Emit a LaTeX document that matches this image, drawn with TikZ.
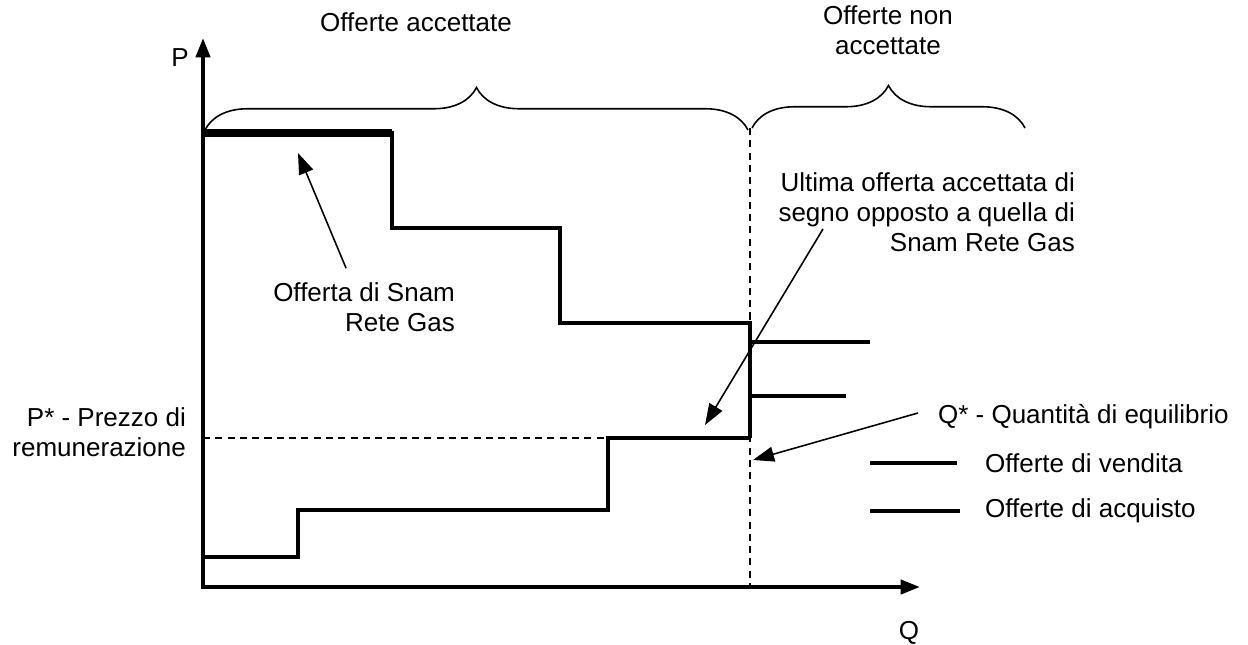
\documentclass[tikz,border=0pt]{standalone}
\usepackage{fontspec}
\setmainfont{Liberation Sans}
\usetikzlibrary{arrows.meta,decorations.pathreplacing}

\tikzset{
  asse/.style={line width=2.3pt,{Triangle[length=11pt,width=8pt]}-{Triangle[length=11pt,width=8pt]}},
  vendita/.style={line width=1.8pt},
  acquisto/.style={line width=2.4pt},
  snamoff/.style={line width=4pt},
  freccia/.style={line width=0.9pt,-{Triangle[length=12pt,width=8.5pt]}},
  graffa/.style={line width=0.9pt,decorate,decoration={brace,amplitude=0.85cm}},
  tratt/.style={line width=0.9pt,dash pattern=on 4pt off 3pt},
  etichetta/.style={font=\fontsize{14.8}{17.2}\selectfont,inner sep=1pt},
}

\begin{document}
\begin{tikzpicture}[x=0.02cm,y=-0.02cm]
    \useasboundingbox (0,0) rectangle (1248,645);
    % Axes
    \draw[asse] (203,38) -- (203,587) -- (920,587);
    \node[etichetta] (P) at (180,58) {P};
    \node[etichetta] (Q) at (909,633) {Q};
    % Braces
    \draw[graffa] (205,130) -- (748,130);
    \draw[graffa] (752,128) -- (1025,128);
    \node[etichetta] (acc) at (416,22) {Offerte accettate};
    \node[etichetta,align=center] (nonacc) at (888,30) {Offerte non\\accettate};
    % Equilibrium
    \draw[tratt] (203,438) -- (608,438);
    \draw[tratt] (750,128) -- (750,587);
    % Offerte di vendita
    \draw[vendita] (204,557) -- (298,557) -- (298,510) -- (608,510) -- (608,438) -- (750,438);
    \draw[vendita] (750,396) -- (846,396);
    % Offerte di acquisto
    \draw[snamoff] (203,133) -- (392,133);
    \draw[acquisto] (392,131) -- (392,228) -- (560,228) -- (560,323) -- (750,323) -- (750,438);
    \draw[acquisto] (750,342) -- (870,342);
    % Labels and arrows
    \node[etichetta,align=right,anchor=east] (snam) at (457,307) {Offerta di Snam\\Rete Gas};
    \coordinate (snamtip) at (298,153);
    \draw[freccia] ([shift={(-18,-12)}]snam.north) -- (snamtip);
    \node[etichetta,align=right,anchor=east] (ultima) at (1077,212) {Ultima offerta accettata di\\segno opposto a quella di\\Snam Rete Gas};
    \coordinate (ultimatip) at (705,425);
    \draw[freccia] (823,229) -- (ultimatip);
    \node[etichetta,align=right,anchor=east] (pstar) at (188,432) {P* - Prezzo di\\remunerazione};
    \node[etichetta,anchor=west] (qstar) at (936,417) {Q* - Quantità di equilibrio};
    \coordinate (qtip) at (753,460);
    \draw[freccia] ([shift={(-18,-4)}]qstar.west) -- (qtip);
    % Legend
    \node[etichetta,anchor=west] (lv) at (983,463) {Offerte di vendita};
    \node[etichetta,anchor=west] (la) at (983,511) {Offerte di acquisto};
    \draw[vendita] (870,463) -- (957,463);
    \draw[acquisto] (870,511) -- (960,511);
\end{tikzpicture}
\end{document}
